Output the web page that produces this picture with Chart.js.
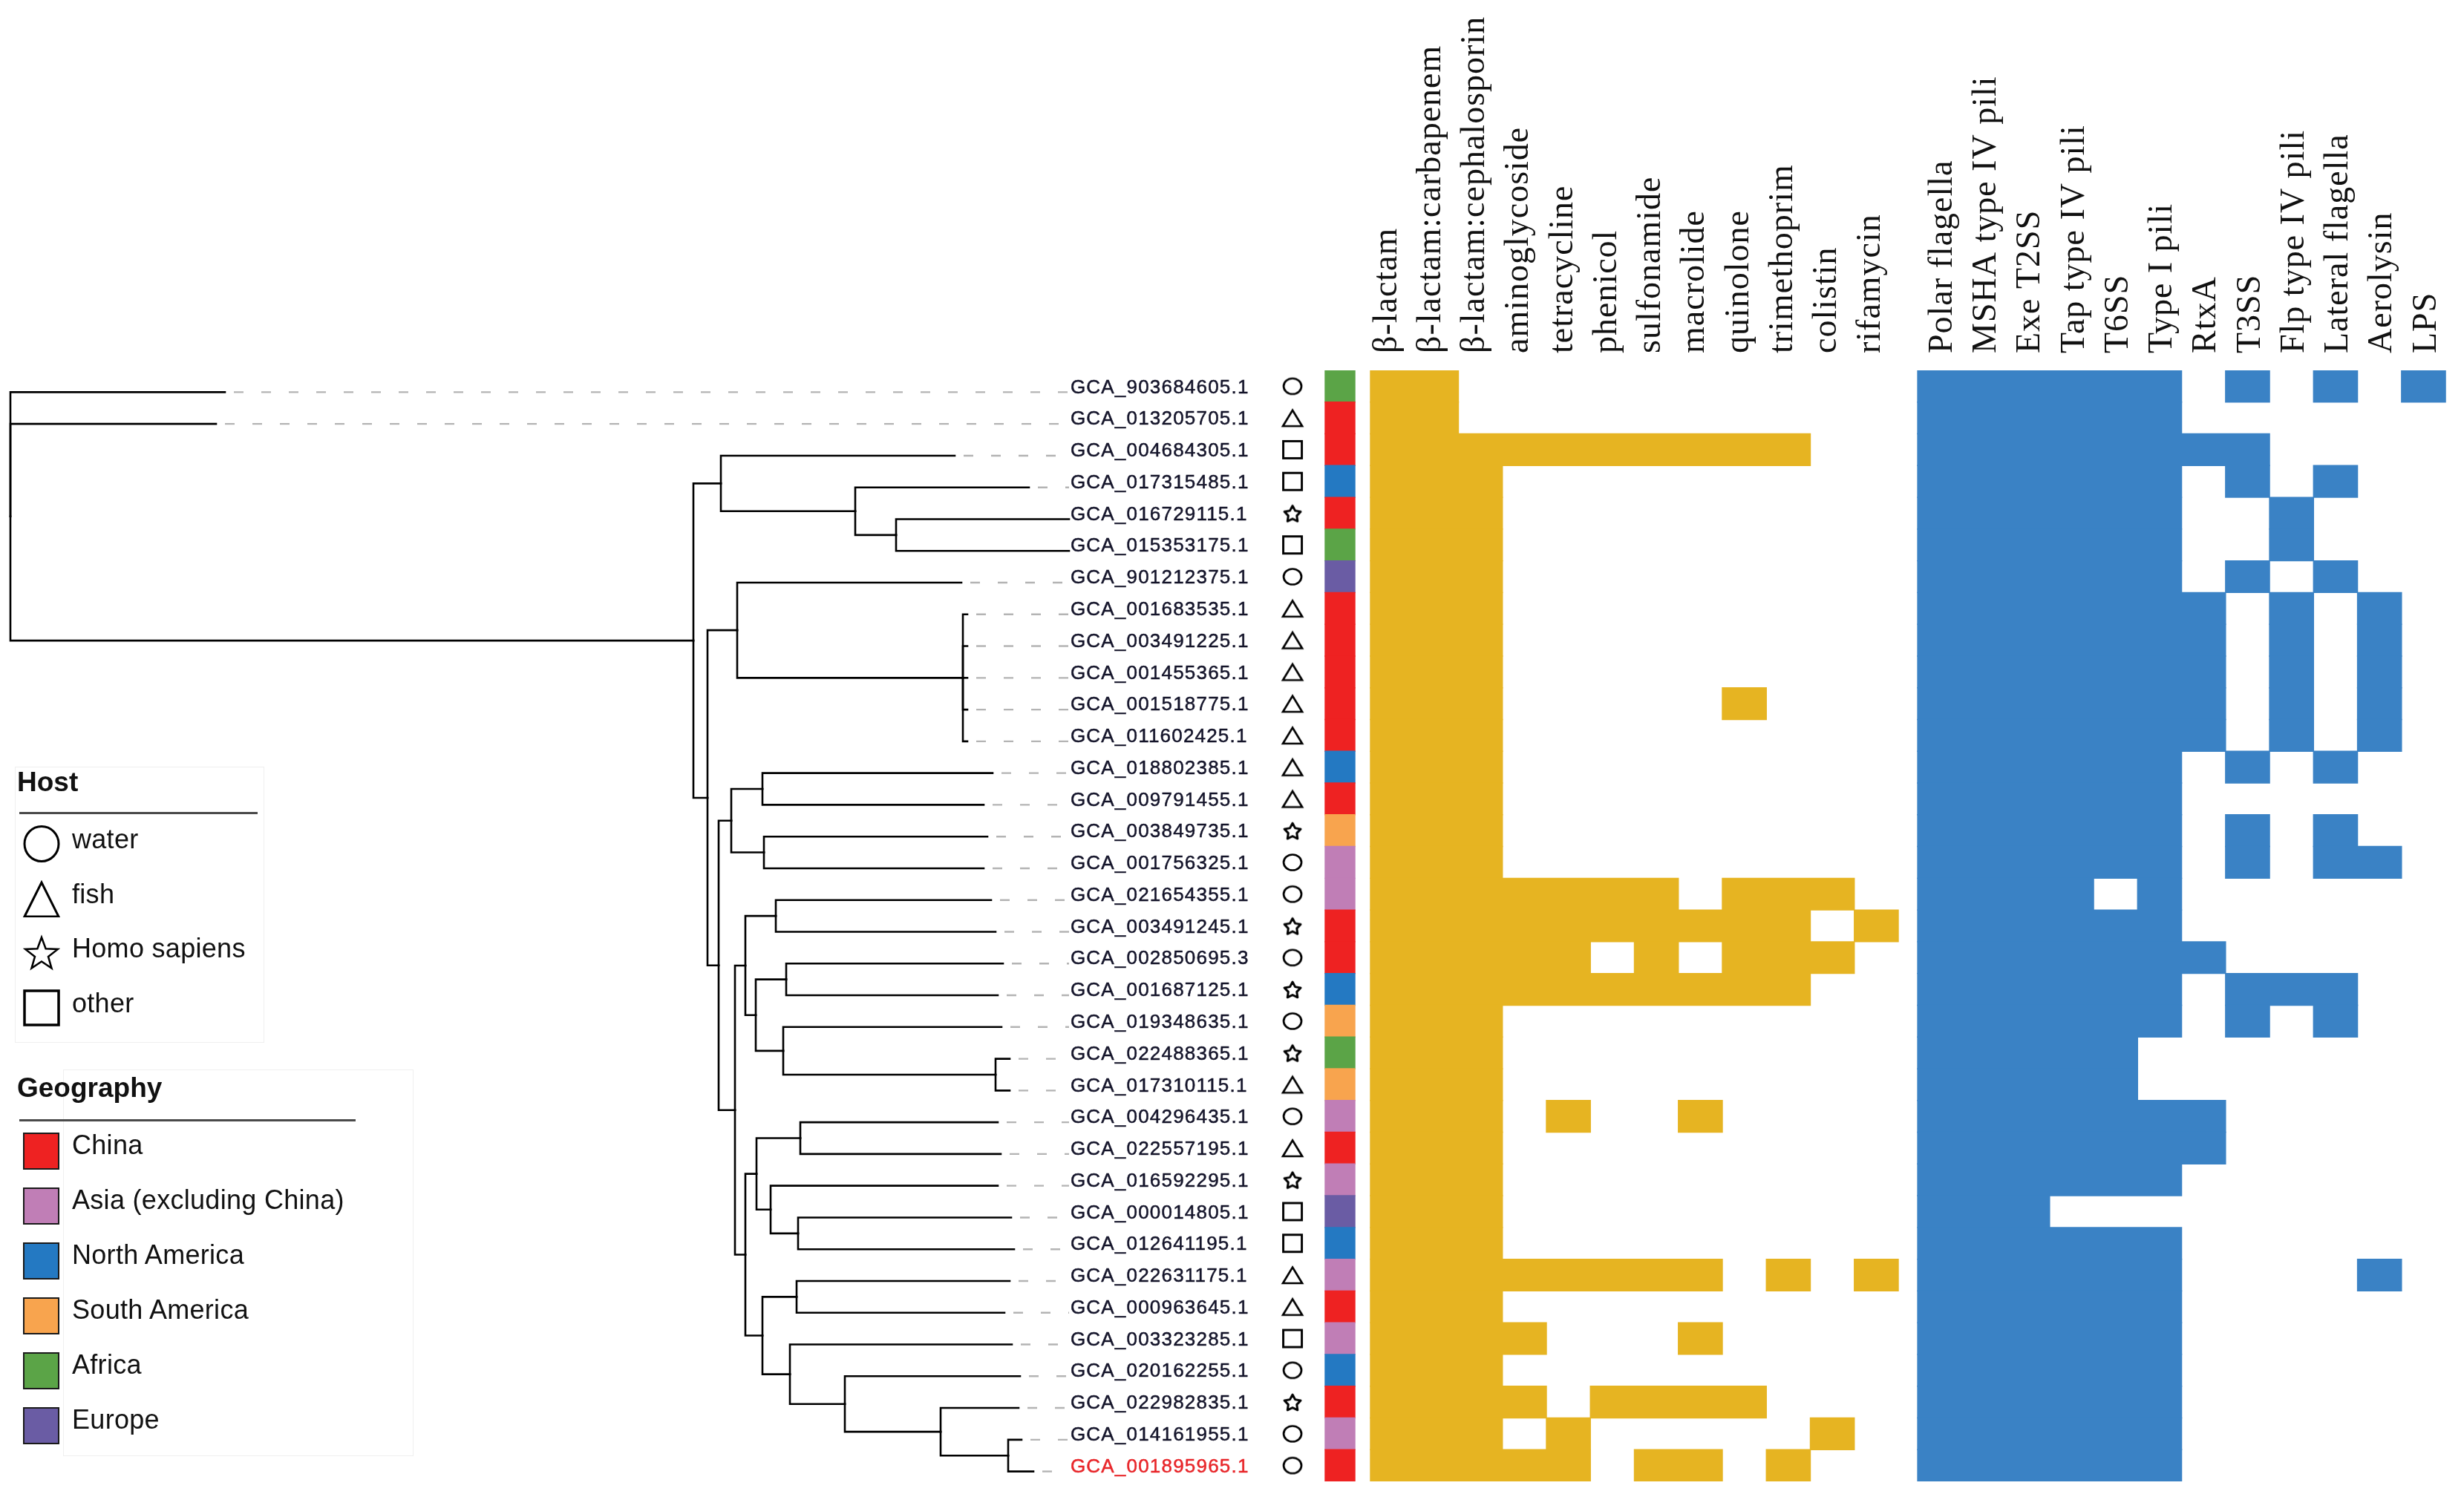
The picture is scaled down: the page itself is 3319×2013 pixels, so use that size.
<!DOCTYPE html>
<html>
<head>
<meta charset="utf-8">
<script src="https://cdn.jsdelivr.net/npm/chart.js@4.4.1/dist/chart.umd.min.js"></script>
<style>
html,body{margin:0;padding:0;background:#fff;}
#wrap{position:relative;width:3319px;height:2013px;overflow:hidden;background:#fff;}
#chart{position:absolute;left:0;top:0;width:3319px;height:2013px;}
.lgbox{position:absolute;border:1px solid #efefef;background:transparent;}
.lgt{position:absolute;font-family:"Liberation Sans",Arial,sans-serif;color:#111;white-space:nowrap;}
.lgtitle{font-weight:bold;font-size:37px;line-height:37px;}
.lgtxt{font-size:36px;line-height:36px;letter-spacing:0.3px;}
.lgline{position:absolute;height:3px;background:#4a4a4a;}
.lgsym{position:absolute;}
</style>
</head>
<body>
<div id="wrap">
  <canvas id="chart" width="3319" height="2013"></canvas>
  <div id="legend"></div>
</div>
<script>
// ---------------- DATA ----------------
const genomes = [
  'GCA_903684605.1','GCA_013205705.1','GCA_004684305.1','GCA_017315485.1','GCA_016729115.1',
  'GCA_015353175.1','GCA_901212375.1','GCA_001683535.1','GCA_003491225.1','GCA_001455365.1',
  'GCA_001518775.1','GCA_011602425.1','GCA_018802385.1','GCA_009791455.1','GCA_003849735.1',
  'GCA_001756325.1','GCA_021654355.1','GCA_003491245.1','GCA_002850695.3','GCA_001687125.1',
  'GCA_019348635.1','GCA_022488365.1','GCA_017310115.1','GCA_004296435.1','GCA_022557195.1',
  'GCA_016592295.1','GCA_000014805.1','GCA_012641195.1','GCA_022631175.1','GCA_000963645.1',
  'GCA_003323285.1','GCA_020162255.1','GCA_022982835.1','GCA_014161955.1','GCA_001895965.1'
];
const highlightGenome = 'GCA_001895965.1';

const hosts = [
  'water','fish','other','other','Homo sapiens','other','water','fish','fish','fish',
  'fish','fish','fish','fish','Homo sapiens','water','water','Homo sapiens','water','Homo sapiens',
  'water','Homo sapiens','fish','water','fish','Homo sapiens','other','other','fish','fish',
  'other','water','Homo sapiens','water','water'
];

const regions = [
  'Africa','China','China','North America','China','Africa','Europe','China','China','China',
  'China','China','North America','China','South America','Asia (excluding China)','Asia (excluding China)','China','China','North America',
  'South America','Africa','South America','Asia (excluding China)','China','Asia (excluding China)','Europe','North America','Asia (excluding China)','China',
  'Asia (excluding China)','North America','China','Asia (excluding China)','China'
];

const amrClasses = ['β-lactam','β-lactam:carbapenem','β-lactam:cephalosporin','aminoglycoside','tetracycline',
  'phenicol','sulfonamide','macrolide','quinolone','trimethoprim','colistin','rifamycin'];

const vfNames = ['Polar flagella','MSHA type IV pili','Exe T2SS','Tap type IV pili','T6SS','Type I pili',
  'RtxA','T3SS','Flp type IV pili','Lateral flagella','Aerolysin','LPS'];

// 1 = present, one string per genome (row), one character per class
const amrPresence = [
  '110000000000','110000000000','111111111100','111000000000','111000000000',
  '111000000000','111000000000','111000000000','111000000000','111000000000',
  '111000001000','111000000000','111000000000','111000000000','111000000000',
  '111000000000','111111101110','111111111101','111110101110','111111111100',
  '111000000000','111000000000','111000000000','111010010000','111000000000',
  '111000000000','111000000000','111000000000','111111110101','111000000000',
  '111100010000','111000000000','111101111000','111010000010','111110110100'
];

const vfPresence = [
  '111111010101','111111000000','111111110000','111111010100','111111001000',
  '111111001000','111111010100','111111101010','111111101010','111111101010',
  '111111101010','111111101010','111111010100','111111000000','111111010100',
  '111111010110','111101000000','111111000000','111111100000','111111011100',
  '111111010100','111110000000','111110000000','111111100000','111111100000',
  '111111000000','111000000000','111111000000','111111000010','111111000000',
  '111111000000','111111000000','111111000000','111111000000','111111000000'
];

// tree: distance from root of each leaf tip (per row)
const leafTips = [
  0.289,0.277,1.272,1.372,1.426,1.426,1.281,1.289,1.289,1.289,
  1.289,1.289,1.323,1.311,1.316,1.311,1.321,1.327,1.337,1.330,
  1.335,1.346,1.346,1.330,1.334,1.330,1.348,1.352,1.346,1.339,
  1.349,1.360,1.358,1.362,1.378
];
// tree topology: [node distance from root, children...]; numbers are leaf rows
const treeTopology =
  [0, 0, 1,
    [0.920,
      [0.957, 2, [1.138, 3, [1.193, 4, 5]]],
      [0.939,
        [0.979, 6, [1.283, 7, 8, 9, 10, 11]],
        [0.954,
          [0.971, [1.013, 12, 13], [1.015, 14, 15]],
          [0.976,
            [0.990, [1.031, 16, 17], [1.004, [1.045, 18, 19], [1.041, 20, [1.327, 21, 22]]]],
            [0.990,
              [1.005, [1.064, 23, 24], [1.024, 25, [1.061, 26, 27]]],
              [1.013, [1.059, 28, 29], [1.050, 30, [1.124, 31, [1.253, 32, [1.344, 33, 34]]]]]
            ]
          ]
        ]
      ]
    ]
  ];

const hostTypes = ['water','fish','Homo sapiens','other'];
const regionNames = ['China','Asia (excluding China)','North America','South America','Africa','Europe'];
const regionColors = ['#EE2222','#C07EB6','#2479C2','#F8A44E','#5BA447','#6A5CA4'];

// ---------------- STYLE / LAYOUT ----------------
const AMR_COLOR = '#E6B422';
const VF_COLOR = '#3A82C5';
const L = {
  W: 3319, H: 2013,
  plotTop: 499, plotBottom: 1996,
  treeRootPx: 14, treePxPerUnit: 1000, treeYShiftPx: 8,
  heatLeftPx: 1846, cellW: 59.25,
  vfStart: 12.44,
  geoX: [-1.03, -0.354],
  hostX: -1.772,
  labelX: -6.82,
  labelTreeX: 1.426,
  headerBaseY: 476,
  amrHeaderShift: -7, vfHeaderShift: 4
};
const nRows = genomes.length;
const rowH = (L.plotBottom - L.plotTop) / nRows;

// ---------------- host symbol images ----------------
function starPath(g, cx, cy, R, r) {
  g.beginPath();
  for (let k = 0; k < 10; k++) {
    const rad = k % 2 === 0 ? R : r;
    const a = -Math.PI / 2 + k * Math.PI / 5;
    const px = cx + rad * Math.cos(a), py = cy + rad * Math.sin(a);
    if (k === 0) g.moveTo(px, py); else g.lineTo(px, py);
  }
  g.closePath();
}
function symbolCanvas(type) {
  const c = document.createElement('canvas');
  c.width = 32; c.height = 30;
  const g = c.getContext('2d');
  g.strokeStyle = '#000'; g.lineWidth = 2.7; g.lineJoin = 'miter';
  if (type === 'water') { g.beginPath(); g.ellipse(16, 15, 12, 10.5, 0, 0, Math.PI * 2); g.stroke(); }
  else if (type === 'fish') { g.beginPath(); g.moveTo(3, 26); g.lineTo(16, 4.5); g.lineTo(29, 26); g.closePath(); g.stroke(); }
  else if (type === 'other') { g.lineWidth = 2.9; g.strokeRect(3.5, 3.5, 25, 23); }
  else { g.lineWidth = 3; g.lineJoin = 'round'; starPath(g, 16, 16.5, 11.5, 6); g.stroke(); }
  return c;
}
const symImgs = {};
hostTypes.forEach(h => symImgs[h] = symbolCanvas(h));

// ---------------- datasets ----------------
const datasets = [];
const lineBase = { type: 'line', xAxisID: 'xTree', yAxisID: 'yTree', pointRadius: 0, fill: false,
  tension: 0, borderColor: '#000', borderWidth: 2.6, borderCapStyle: 'square', borderJoinStyle: 'miter' };

function placeNode(node) {
  if (typeof node === 'number') return { d: leafTips[node], y: node };
  const d = node[0];
  const kids = node.slice(1).map(placeNode);
  const y = (kids[0].y + kids[kids.length - 1].y) / 2;
  kids.forEach(k => datasets.push(Object.assign({}, lineBase, {
    data: [{ x: d, y: y }, { x: d, y: k.y }, { x: k.d, y: k.y }]
  })));
  return { d, y };
}
placeNode(treeTopology);

// dashed extensions from leaf tips to labels
leafTips.forEach((t, i) => {
  if (t < L.labelTreeX - 0.005) {
    datasets.push(Object.assign({}, lineBase, {
      data: [{ x: t, y: i }, { x: L.labelTreeX, y: i }],
      borderColor: '#b4b4b4', borderWidth: 2.4, borderDash: [13, 24], borderDashOffset: 25, borderCapStyle: 'butt'
    }));
  }
});

// host symbols
datasets.push({
  type: 'scatter', xAxisID: 'xHeat', yAxisID: 'y',
  data: hosts.map((h, i) => ({ x: L.hostX, y: i })),
  pointStyle: hosts.map(h => symImgs[h]),
  pointRadius: 12, showLine: false
});

const barBase = { type: 'bar', indexAxis: 'y', xAxisID: 'xHeat', yAxisID: 'y', grouped: false,
  barPercentage: 1, categoryPercentage: 1, borderWidth: 0, inflateAmount: 0.7 };

// geography strip
datasets.push(Object.assign({}, barBase, {
  data: regions.map((r, i) => ({ x: L.geoX, y: i })),
  backgroundColor: regions.map(r => regionColors[regionNames.indexOf(r)])
}));

// heat cells (runs of consecutive present cells in a row)
function runs(str, offset) {
  const out = [];
  let s = -1;
  for (let c = 0; c <= str.length; c++) {
    const on = c < str.length && str[c] === '1';
    if (on && s < 0) s = c;
    if (!on && s >= 0) { out.push([offset + s, offset + c]); s = -1; }
  }
  return out;
}
const amrBars = [], vfBars = [];
amrPresence.forEach((row, i) => runs(row, 0).forEach(r => amrBars.push({ x: r, y: i })));
vfPresence.forEach((row, i) => runs(row, L.vfStart).forEach(r => vfBars.push({ x: r, y: i })));
datasets.push(Object.assign({}, barBase, { data: amrBars, backgroundColor: AMR_COLOR }));
datasets.push(Object.assign({}, barBase, { data: vfBars, backgroundColor: VF_COLOR }));

// ---------------- text layer plugin ----------------
const textLayer = {
  id: 'textLayer',
  afterDatasetsDraw(chart) {
    const ctx = chart.ctx, y = chart.scales.y, xh = chart.scales.xHeat;
    ctx.save();
    // genome labels
    ctx.font = '26px "Liberation Sans", Arial, sans-serif';
    ctx.letterSpacing = '1.2px';
    ctx.textAlign = 'left';
    ctx.textBaseline = 'middle';
    ctx.lineWidth = 0.5;
    genomes.forEach((g, i) => {
      const col = g === highlightGenome ? '#E8262A' : '#14142a';
      ctx.fillStyle = col; ctx.strokeStyle = col;
      const px = xh.getPixelForValue(L.labelX), py = y.getPixelForValue(i) + 2;
      ctx.fillText(g, px, py);
      ctx.strokeText(g, px, py);
    });
    // column headers
    ctx.font = '46px "Liberation Serif", "Times New Roman", serif';
    ctx.letterSpacing = '1px';
    ctx.fillStyle = '#111';
    const drawHeader = (txt, px) => {
      ctx.save();
      ctx.translate(px, L.headerBaseY);
      ctx.rotate(-Math.PI / 2);
      ctx.textAlign = 'left';
      ctx.textBaseline = 'middle';
      ctx.fillText(txt, 0, 0);
      ctx.restore();
    };
    amrClasses.forEach((n, c) => drawHeader(n, xh.getPixelForValue(c + 0.5) + L.amrHeaderShift));
    vfNames.forEach((n, c) => drawHeader(n, xh.getPixelForValue(L.vfStart + c + 0.5) + L.vfHeaderShift));
    ctx.restore();
  }
};

// ---------------- scales ----------------
const treeMin = -L.treeRootPx / L.treePxPerUnit;
const heatMin = -L.heatLeftPx / L.cellW;
const yShift = L.treeYShiftPx / rowH;

new Chart(document.getElementById('chart'), {
  type: 'line',
  data: { datasets },
  options: {
    responsive: false,
    devicePixelRatio: 1,
    animation: false,
    events: [],
    layout: { autoPadding: false, padding: { top: L.plotTop, bottom: L.H - L.plotBottom, left: 0, right: 0 } },
    plugins: { legend: { display: false }, tooltip: { enabled: false } },
    scales: {
      x: { type: 'linear', display: false, offset: false },
      xTree: { axis: 'x', type: 'linear', display: false, offset: false, min: treeMin, max: treeMin + L.W / L.treePxPerUnit },
      xHeat: { axis: 'x', type: 'linear', display: false, offset: false, min: heatMin, max: heatMin + L.W / L.cellW },
      y: { axis: 'y', type: 'linear', display: false, offset: false, reverse: true, min: -0.5, max: nRows - 0.5, ticks: { stepSize: 1 } },
      yTree: { axis: 'y', type: 'linear', display: false, offset: false, reverse: true, min: -0.5 - yShift, max: nRows - 0.5 - yShift }
    }
  },
  plugins: [textLayer]
});

// ---------------- legend (HTML) ----------------
const legend = document.getElementById('legend');
function add(html) { legend.insertAdjacentHTML('beforeend', html); }
function svgSym(type, x, cy) {
  let inner = '';
  if (type === 'water') inner = '<ellipse cx="25" cy="25" rx="23" ry="23.5" fill="none" stroke="#000" stroke-width="3"/>';
  else if (type === 'fish') inner = '<polygon points="2,49 25,3 48,49" fill="none" stroke="#000" stroke-width="3"/>';
  else if (type === 'other') inner = '<rect x="2" y="2" width="46" height="46" fill="none" stroke="#000" stroke-width="3.5"/>';
  else {
    let pts = [];
    for (let k = 0; k < 10; k++) {
      const r = k % 2 === 0 ? 23 : 9.5, a = -Math.PI / 2 + k * Math.PI / 5;
      pts.push((25 + r * Math.cos(a)).toFixed(1) + ',' + (27 + r * Math.sin(a)).toFixed(1));
    }
    inner = '<polygon points="' + pts.join(' ') + '" fill="none" stroke="#000" stroke-width="2.5"/>';
  }
  add('<svg class="lgsym" style="left:' + x + 'px;top:' + (cy - 25) + 'px" width="50" height="50">' + inner + '</svg>');
}
// host legend
add('<div class="lgbox" style="left:20px;top:1033px;width:334px;height:370px"></div>');
add('<div class="lgt lgtitle" style="left:23px;top:1035px">Host</div>');
add('<div class="lgline" style="left:26px;top:1094px;width:321px"></div>');
const hostRowY = [1137, 1211, 1284, 1358];
hostTypes.forEach((h, k) => {
  svgSym(h, 31, hostRowY[k]);
  add('<div class="lgt lgtxt" style="left:97px;top:' + (hostRowY[k] - 24.5) + 'px">' + h + '</div>');
});
// geography legend
add('<div class="lgbox" style="left:85px;top:1441px;width:470px;height:519px"></div>');
add('<div class="lgt lgtitle" style="left:23px;top:1447px">Geography</div>');
add('<div class="lgline" style="left:26px;top:1508px;width:453px"></div>');
const geoRowY = [1551, 1625, 1699, 1773, 1847, 1921];
regionNames.forEach((r, k) => {
  add('<div class="lgsym" style="left:31px;top:' + (geoRowY[k] - 25.5) + 'px;width:45px;height:46px;border:2.5px solid #1a1a1a;background:' + regionColors[k] + '"></div>');
  add('<div class="lgt lgtxt" style="left:97px;top:' + (geoRowY[k] - 26.5) + 'px">' + r + '</div>');
});
</script>
</body>
</html>
